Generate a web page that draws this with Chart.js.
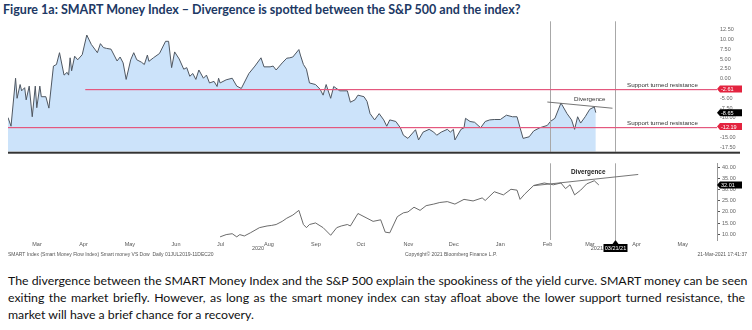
<!DOCTYPE html>
<html>
<head>
<meta charset="utf-8">
<script src="https://cdn.jsdelivr.net/npm/chart.js@4.4.1/dist/chart.umd.min.js"></script>
<style>
  html, body { margin: 0; padding: 0; background: #fff; }
  body { width: 752px; height: 330px; position: relative; overflow: hidden; }
  #title { position: absolute; left: 3px; top: 2px; font-family: Lato, sans-serif; font-weight: bold; font-size: 12.5px; color: #203864; white-space: nowrap; }
  #upper { position: absolute; left: 0; top: 15px; }
  #lower { position: absolute; left: 0; top: 158px; }
  #note { position: absolute; left: 8px; top: 273px; width: 737px; font-family: Lato, sans-serif; font-size: 12.3px; line-height: 16.8px; color: #111; }
  #note div { white-space: nowrap; }
  #note .j { text-align: justify; text-align-last: justify; }
</style>
</head>
<body>
<div id="title">Figure 1a: SMART Money Index – Divergence is spotted between the S&amp;P 500 and the index?</div>
<canvas id="upper" width="752" height="143"></canvas>
<canvas id="lower" width="752" height="110"></canvas>
<div id="note">
  <div class="j">The divergence between the SMART Money Index and the S&amp;P 500 explain the spookiness of the yield curve. SMART money can be seen</div>
  <div class="j">exiting the market briefly. However, as long as the smart money index can stay afloat above the lower support turned resistance, the</div>
  <div>market will have a brief chance for a recovery.</div>
</div>
<script>
// days are counted from DAY0
const DAY0 = '2020-03-01';
const X_FROM = '2020-02-14';
const X_TO = '2021-05-27';

const monthStarts = ['2020-03-01', '2020-04-01', '2020-05-01', '2020-06-01', '2020-07-01', '2020-08-01', '2020-09-01', '2020-10-01',
    '2020-11-01', '2020-12-01', '2021-01-01', '2021-02-01', '2021-03-01', '2021-04-01', '2021-05-01'];
const monthLabels = ['Mar', 'Apr', 'May', 'Jun', 'Jul', 'Aug', 'Sep', 'Oct', 'Nov', 'Dec', 'Jan', 'Feb', 'Mar', 'Apr', 'May'];

// SMART money index (upper panel)
const upperDays = [-16, -14, -11, -10, -8, -7, -5, -4, -2, 0, 2, 3, 5, 6, 9, 11, 14, 16, 18, 21, 23, 24, 25, 26, 28, 30, 33, 36, 39, 43,
    45, 47, 49, 52, 54, 56, 58, 60, 62, 65, 67, 69, 72, 74, 76, 77, 80, 84, 88, 90, 92, 94, 97, 100, 102, 104, 106, 108, 110, 113,
    115, 117, 120, 122, 123, 124, 128, 132, 135, 138, 143, 147, 151, 153, 157, 159, 161, 165, 168, 170, 172, 176, 177, 179, 181, 183, 187, 190, 192, 194,
    197, 199, 203, 208, 210, 213, 215, 219, 221, 223, 226, 229, 232, 234, 236, 240, 243, 245, 248, 253, 255, 258, 262, 265, 267, 270, 274, 276, 278, 279,
    283, 285, 286, 289, 292, 296, 299, 302, 305, 309, 313, 317, 320, 322, 324, 328, 331, 335, 340, 342, 345, 349, 353, 356, 358, 360, 362, 365, 368, 371, 372];
const upperValues = [-9.9, -12.1, 0.1, -5.0, -1.5, -3.1, -2.3, -5.4, -1.9, -9.7, -1.9, -7.4, -1.9, -4.6, -4.6, -7.5, 3.2, 3.6, 6.6, 0.9, 1.6, 0.9, 5.3, 2.0, 5.7, 4.8, 6.1, 11.1, 8.7, 6.6,
    8.9, 7.9, 7.7, 7.5, 6.0, 4.5, 5.5, 4.0, -0.2, 4.8, 6.6, 4.8, 4.2, 3.6, 6.0, 4.4, 5.3, 6.4, 9.5, 9.5, 2.8, 6.8, 5.0, 2.4, 2.8, 0.6, 1.3, -0.2, 2.2, 0.1,
    0.9, -1.1, -0.7, -2.0, 0.1, -1.1, -0.3, 0.1, -1.9, -2.5, 1.3, 3.2, 5.3, 3.0, 3.0, 3.2, 2.2, 4.0, 5.2, 5.3, 5.5, 7.4, 6.0, 3.6, 2.4, -1.1, -1.5, -2.7, -4.2, -1.5,
    -5.0, -2.0, -3.1, -3.1, -6.0, -5.4, -4.2, -4.6, -5.8, -8.9, -10.5, -8.9, -10.5, -12.1, -10.5, -10.9, -12.5, -14.4, -15.2, -13.0, -15.6, -13.6, -12.9, -13.6, -14.4, -13.6, -12.9, -13.6, -12.9, -15.6,
    -12.9, -12.5, -10.1, -10.9, -11.1, -12.5, -10.9, -10.5, -10.4, -10.4, -9.3, -9.7, -9.7, -12.5, -15.2, -14.8, -13.3, -12.5, -11.9, -10.9, -10.1, -6.2, -8.9, -10.5, -12.9, -9.7, -11.3, -9.7, -7.8, -7.2, -8.65];
const upperTicks = [12.5, 10, 7.5, 5, 2.5, 0, -2.5, -5, -7.5, -10, -12.5, -15, -17.5];

// smart money vs Dow (lower panel)
const lowerDays = [124, 128, 132, 135, 137, 140, 144, 150, 155, 158, 161, 165, 168, 172, 176, 179, 181, 183, 187, 192, 197, 201, 204, 208, 210, 215, 221, 225, 230, 233, 236,
    241, 245, 248, 252, 256, 260, 265, 269, 274, 279, 285, 291, 297, 299, 305, 311, 316, 320, 322, 325, 331, 338, 344, 349, 352, 355, 358, 362, 366, 371, 374];
const lowerValues = [8.9, 9.9, 10.3, 8.9, 9.9, 9.3, 10.7, 13.0, 13.75, 14.0, 14.4, 15.8, 17.2, 18.6, 20.7, 14.4, 13.0, 14.4, 15.1, 13.0, 9.6, 13.0, 13.75, 14.4, 13.75, 19.3, 17.2, 15.8, 16.5, 11.0, 10.7,
    17.9, 19.6, 20.0, 22.1, 20.7, 22.8, 23.5, 24.2, 24.6, 23.5, 25.6, 24.9, 26.25, 25.1, 29.0, 27.6, 30.1, 29.7, 25.6, 27.9, 31.8, 32.9, 32.1, 32.9, 30.4, 32.1, 27.6, 29.7, 32.5, 33.9, 32.01];
const lowerTicks = [40, 35, 30, 25, 20, 15, 10];

// annotations
const markerDates = ['2021-02-06', '2021-03-21'];
const supportLevels = [-2.61, -12.19];
const supportFrom = ['2020-04-05', '2020-02-14'];
const upperTrendDates = ['2021-02-04', '2021-03-19'];
const upperTrendValues = [-5.95, -7.53];
const lowerTrendDates = ['2021-01-26', '2021-04-05'];
const lowerTrendValues = [31.7, 36.7];

const dayOf = s => (Date.parse(s) - Date.parse(DAY0)) / 86400000;
const SMALL = '"Liberation Sans", sans-serif';

function drawTag(ctx, x0, py, text, color) {
    const h = 7, w = 25;
    ctx.fillStyle = color;
    ctx.beginPath();
    ctx.moveTo(x0, py);
    ctx.lineTo(x0 + 3, py - h / 2);
    ctx.lineTo(x0 + w, py - h / 2);
    ctx.lineTo(x0 + w, py + h / 2);
    ctx.lineTo(x0 + 3, py + h / 2);
    ctx.closePath();
    ctx.fill();
    ctx.fillStyle = '#fff';
    ctx.font = '5.5px ' + SMALL;
    ctx.textAlign = 'left';
    ctx.textBaseline = 'middle';
    ctx.fillText(text, x0 + 4, py + 0.5);
}

function drawMarkers(chart) {
    const { ctx, chartArea: a, scales: { x } } = chart;
    ctx.strokeStyle = '#A8A8A8';
    ctx.lineWidth = 1;
    markerDates.forEach(dt => {
        const px = Math.round(x.getPixelForValue(dayOf(dt))) + 0.5;
        ctx.beginPath();
        ctx.moveTo(px, a.top);
        ctx.lineTo(px, a.bottom);
        ctx.stroke();
    });
}

function drawTrend(chart, dates, values) {
    const { ctx, scales: { x, y } } = chart;
    ctx.strokeStyle = '#666';
    ctx.lineWidth = 0.9;
    ctx.beginPath();
    ctx.moveTo(x.getPixelForValue(dayOf(dates[0])), y.getPixelForValue(values[0]));
    ctx.lineTo(x.getPixelForValue(dayOf(dates[1])), y.getPixelForValue(values[1]));
    ctx.stroke();
}

const upperDecor = {
    id: 'upperDecor',
    afterDraw(chart) {
        const { ctx, chartArea: a, scales: { x, y } } = chart;
        ctx.save();
        drawMarkers(chart);

        // support turned resistance
        supportLevels.forEach((lv, i) => {
            const py = Math.round(y.getPixelForValue(lv));
            ctx.fillStyle = '#E4587E';
            const x0 = Math.max(a.left, x.getPixelForValue(dayOf(supportFrom[i])));
            ctx.fillRect(x0, py, a.right - x0, 1.2);
            ctx.fillStyle = '#333';
            ctx.font = '6.2px ' + SMALL;
            ctx.textAlign = 'left';
            ctx.textBaseline = 'bottom';
            ctx.fillText('Support turned resistance', a.right - 90, py - 1);
        });

        drawTrend(chart, upperTrendDates, upperTrendValues);
        ctx.fillStyle = '#333';
        ctx.font = '6.2px ' + SMALL;
        ctx.textAlign = 'center';
        ctx.textBaseline = 'middle';
        ctx.fillText('Divergence', x.getPixelForValue(dayOf('2021-03-04')), y.getPixelForValue(-5.3));

        supportLevels.forEach(lv => drawTag(ctx, a.right, y.getPixelForValue(lv), lv.toFixed(2), '#E3233F'));
        const last = upperValues[upperValues.length - 1];
        drawTag(ctx, a.right, y.getPixelForValue(last), last.toFixed(2), '#000');

        // panel separator
        ctx.fillStyle = '#333';
        ctx.fillRect(a.left, a.bottom, 732, 2);
        ctx.restore();
    }
};

const lowerDecor = {
    id: 'lowerDecor',
    afterDraw(chart) {
        const { ctx, chartArea: a, scales: { x, y } } = chart;
        ctx.save();
        drawMarkers(chart);
        drawTrend(chart, lowerTrendDates, lowerTrendValues);

        ctx.fillStyle = '#222';
        ctx.font = 'bold 6.4px ' + SMALL;
        ctx.textAlign = 'center';
        ctx.textBaseline = 'middle';
        ctx.fillText('Divergence', x.getPixelForValue(dayOf('2021-03-03')), y.getPixelForValue(37.6));

        const last = lowerValues[lowerValues.length - 1];
        drawTag(ctx, a.right, y.getPixelForValue(last), last.toFixed(2), '#000');

        // year labels + current date marker
        ctx.fillStyle = '#555';
        ctx.font = '5.5px ' + SMALL;
        ctx.textBaseline = 'middle';
        ctx.fillText('2020', x.getPixelForValue(dayOf('2020-07-24')), 90);
        const mx = Math.round(x.getPixelForValue(dayOf(markerDates[1]))) + 0.5;
        ctx.textAlign = 'right';
        ctx.fillText('2021', mx - 12.5, 90);
        ctx.fillStyle = '#000';
        ctx.beginPath();
        ctx.moveTo(mx, a.bottom);
        ctx.lineTo(mx - 3, a.bottom + 4);
        ctx.lineTo(mx + 3, a.bottom + 4);
        ctx.closePath();
        ctx.fill();
        ctx.fillRect(mx - 12, 86, 24, 8);
        ctx.fillStyle = '#fff';
        ctx.textAlign = 'center';
        ctx.fillText('03/21/21', mx, 90.5);

        // footer
        ctx.fillStyle = '#555';
        ctx.font = '5px ' + SMALL;
        ctx.textAlign = 'left';
        ctx.fillText('SMART Index (Smart Money Flow Index) Smart money VS Dow  Daily 01JUL2019-11DEC20', 8, 97);
        ctx.fillText('Copyright\u00A9 2021 Bloomberg Finance L.P.', 405, 97);
        ctx.textAlign = 'right';
        ctx.fillText('21-Mar-2021 17:41:37', 747, 97);
        ctx.restore();
    }
};

const xCommon = { type: 'linear', min: dayOf(X_FROM), max: dayOf(X_TO) };

new Chart(document.getElementById('upper'), {
    type: 'line',
    data: {
        datasets: [{
            data: upperDays.map((d, i) => ({ x: d, y: upperValues[i] })),
            borderColor: '#4F5761',
            borderWidth: 1,
            backgroundColor: '#CCE3FA',
            fill: 'start',
            pointRadius: 0,
            tension: 0
        }]
    },
    options: {
        responsive: false,
        animation: false,
        layout: { padding: { left: 8, right: 0, top: 0, bottom: 2 } },
        plugins: { legend: { display: false }, tooltip: { enabled: false } },
        scales: {
            x: { ...xCommon, display: false },
            y: {
                position: 'right',
                min: -18.59,
                max: 14.59,
                afterBuildTicks: s => { s.ticks = upperTicks.map(v => ({ value: v })); },
                afterFit: s => { s.width = 35; },
                grid: { display: false, drawTicks: false },
                border: { display: false },
                ticks: { font: { size: 5.5, family: SMALL }, color: '#666', padding: 3, callback: v => v.toFixed(2) }
            }
        }
    },
    plugins: [upperDecor]
});

new Chart(document.getElementById('lower'), {
    type: 'line',
    data: {
        datasets: [{
            data: lowerDays.map((d, i) => ({ x: d, y: lowerValues[i] })),
            borderColor: '#5A5A5A',
            borderWidth: 0.9,
            fill: false,
            pointRadius: 0,
            tension: 0
        }]
    },
    options: {
        responsive: false,
        animation: false,
        layout: { padding: { left: 8, right: 0, top: 0, bottom: 0 } },
        plugins: { legend: { display: false }, tooltip: { enabled: false } },
        scales: {
            x: {
                ...xCommon,
                afterBuildTicks: s => { s.ticks = monthStarts.map(m => ({ value: dayOf(m) })); },
                afterFit: s => { s.height = 28; },
                grid: { display: false, drawTicks: false },
                border: { display: false },
                ticks: {
                    autoSkip: false, maxRotation: 0, align: 'start', padding: 1,
                    font: { size: 5.5, family: SMALL }, color: '#555',
                    callback: (v, i) => monthLabels[i]
                }
            },
            y: {
                position: 'right',
                min: 7.5,
                max: 41.67,
                afterBuildTicks: s => { s.ticks = lowerTicks.map(v => ({ value: v })); },
                afterFit: s => { s.width = 35; },
                grid: { display: true, drawOnChartArea: false, drawTicks: true, tickLength: 3, color: '#555' },
                border: { display: true, color: '#999' },
                ticks: { font: { size: 5.5, family: SMALL }, color: '#666', padding: 2, callback: v => v.toFixed(2) }
            }
        }
    },
    plugins: [lowerDecor]
});
</script>
</body>
</html>
